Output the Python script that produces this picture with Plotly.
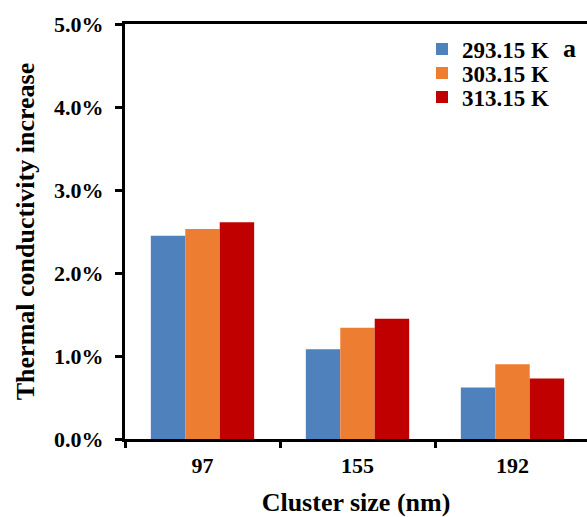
import plotly.graph_objects as go

categories = ["97", "155", "192"]
series_names = ["293.15 K", "303.15 K", "313.15 K"]
v293 = [0.0245, 0.0108, 0.0062]
v303 = [0.0253, 0.0134, 0.0090]
v313 = [0.0261, 0.0145, 0.0073]
colors = ["#4F81BD", "#ED7D31", "#C00000"]
y_ticks = [0, 0.01, 0.02, 0.03, 0.04, 0.05]

FONT = "Liberation Serif"
fig = go.Figure()
legends = ["legend", "legend2", "legend3"]
for name, vals, col, lg in zip(series_names, [v293, v303, v313], colors, legends):
    fig.add_trace(go.Bar(x=categories, y=vals, name=name, marker_color=col,
                         marker_line_width=0, legend=lg, showlegend=True))

W, H = 587, 517
ml, mr, mt, mb = 125, 0, 24, 78
pw, ph = W - ml - mr, H - mt - mb

def py(ypx):
    return 1 - (ypx - mt) / ph

def px(xpx):
    return (xpx - ml) / pw

leg_common = dict(font=dict(family=FONT, size=23, color="black", weight="bold"),
                  bgcolor="rgba(0,0,0,0)", borderwidth=0, itemwidth=30,
                  xanchor="left", yanchor="middle", x=px(422), tracegroupgap=0,
                  visible=True)
fig.update_layout(
    width=W, height=H,
    margin=dict(l=ml, r=mr, t=mt, b=mb),
    plot_bgcolor="white", paper_bgcolor="white",
    barmode="group", bargap=1/3, bargroupgap=0,
    showlegend=True,
    font=dict(family=FONT, color="black"),
    legend=dict(**leg_common, y=py(49)),
    legend2=dict(**leg_common, y=py(73)),
    legend3=dict(**leg_common, y=py(97)),
    xaxis=dict(
        range=[-0.5, -0.5 + pw / 155.0],
        showline=True, linecolor="black", linewidth=3, mirror=True,
        ticks="outside", tickson="boundaries", ticklen=6, tickwidth=3, tickcolor="black",
        ticklabelstandoff=5,
        tickfont=dict(family=FONT, size=22, color="black", weight="bold"),
        title=dict(text="Cluster size (nm)", font=dict(family=FONT, size=26, color="black", weight="bold"), standoff=18),
        showgrid=False, zeroline=False,
    ),
    yaxis=dict(
        range=[0, 0.05], tickvals=y_ticks, tickformat=".1%",
        showline=True, linecolor="black", linewidth=3,
        ticks="outside", ticklen=7, tickwidth=3, tickcolor="black",
        ticklabelstandoff=7,
        tickfont=dict(family=FONT, size=22, color="black", weight="bold"),
        title=dict(text="Thermal conductivity increase", font=dict(family=FONT, size=26, color="black", weight="bold"), standoff=12),
        showgrid=False, zeroline=False,
    ),
    annotations=[dict(text="a", x=px(569), y=py(48), xref="paper", yref="paper",
                      xanchor="center", yanchor="middle",
                      showarrow=False, font=dict(family=FONT, size=26, color="black", weight="bold"))],
)
fig.write_html("out.html")
